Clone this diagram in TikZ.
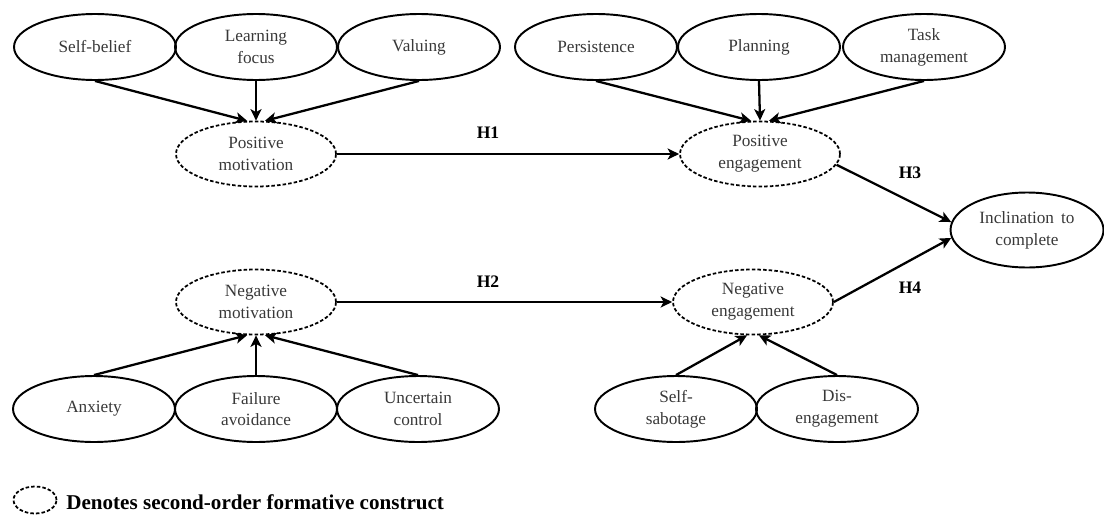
\documentclass[tikz,border=0pt]{standalone}
\usepackage{fontspec}
\setmainfont{Liberation Serif}
\usetikzlibrary{shapes.geometric,arrows.meta}
\tikzset{
  first/.style={ellipse, draw=black, line width=1.1pt, minimum width=3.24cm, minimum height=1.32cm, inner sep=0pt, align=center, text=black!78, font=\fontsize{9.8}{12.4}\selectfont},
  second/.style={first, dashed, dash pattern=on 2pt off 1.2pt, line width=1pt, minimum width=3.2cm, minimum height=1.3cm},
  outcome/.style={first, minimum width=3.06cm, minimum height=1.5cm},
  link/.style={line width=1.3pt, -{Stealth[length=2.3mm,width=2.2mm,inset=0.6mm]}},
  hlabel/.style={font=\fontsize{10}{12}\selectfont\bfseries, inner sep=0pt},
}
\begin{document}
\begin{tikzpicture}[x=0.02cm,y=0.02cm]
\useasboundingbox (0,0) rectangle (1104,515);
% top row
\node[first] (sb) at (95,468) {Self-belief};
\node[first] (lf) at (256,468) {Learning\\focus};
\node[first] (va) at (419,468) {Valuing};
\node[first] (pe1) at (596,468) {Persistence};
\node[first] (pl) at (759,468) {Planning};
\node[first] (tm) at (924,468) {Task\\management};
% second order
\node[second] (pm) at (256,361) {Positive\\motivation};
\node[second] (pe) at (760,361) {Positive\\engagement};
\node[second] (nm) at (256,213) {Negative\\motivation};
\node[second] (ne) at (753,213) {Negative\\engagement};
\node[outcome] (ic) at (1027,285) {Inclination\, to\\complete};
% bottom row
\node[first] (an) at (94,106) {Anxiety};
\node[first] (fa) at (256,106) {Failure\\avoidance};
\node[first] (uc) at (418,106) {Uncertain\\control};
\node[first] (ss) at (676,106) {Self-\\sabotage};
\node[first] (de) at (837,106) {Dis-\\engagement};
% formative arrows
\draw[link] (sb.south) -- (pm.105);
\draw[link] (lf.south) -- (pm.north);
\draw[link] (va.south) -- (pm.75);
\draw[link] (pe1.south) -- (pe.105);
\draw[link] (pl.south) -- (pe.north);
\draw[link] (tm.south) -- (pe.75);
\draw[link] (an.north) -- (nm.255);
\draw[link] (fa.north) -- (nm.south);
\draw[link] (uc.north) -- (nm.285);
\draw[link] (ss.north) -- (ne.260);
\draw[link] (de.north) -- (ne.280);
% hypotheses
\draw[link] (pm.east) -- (pe.west);
\draw[link] (nm.east) -- (ne.west);
\draw[link] (pe.-8) -- (ic.174);
\draw[link] (ne.east) -- (ic.186);
\node[hlabel] (h1) at (488,382) {H1};
\node[hlabel] (h2) at (488,233) {H2};
\node[hlabel] (h3) at (910,342) {H3};
\node[hlabel] (h4) at (910,227) {H4};
% legend
\node[ellipse, draw=black, dashed, dash pattern=on 2pt off 1.2pt, line width=1pt, minimum width=0.86cm, minimum height=0.54cm, inner sep=0pt] (lg) at (35,15) {};
\node[anchor=west, inner sep=0pt, font=\fontsize{12}{14}\selectfont\bfseries] (lt) at (66,13) {Denotes second-order formative construct};
\end{tikzpicture}
\end{document}
